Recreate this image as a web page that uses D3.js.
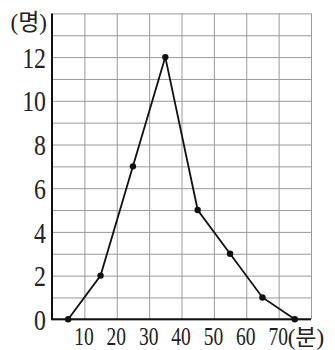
<!DOCTYPE html>
<html>
<head>
<meta charset="utf-8">
<script src="https://cdn.jsdelivr.net/npm/d3@7"></script>
<style>
  body { margin: 0; background: #fff; }
</style>
</head>
<body>
<div id="chart"></div>
<script>
// class midpoints (minutes) and frequencies (people)
const minutes = [5, 15, 25, 35, 45, 55, 65, 75];
const counts = [0, 2, 7, 12, 5, 3, 1, 0];
const xTicks = [10, 20, 30, 40, 50, 60, 70];
const yTicks = [0, 2, 4, 6, 8, 10, 12];

const FONT = "'Liberation Serif', 'DejaVu Serif', 'Noto Sans CJK KR', serif";

const W = 335, H = 350;
const margin = { top: 13.4, right: 24, bottom: 30.7, left: 52 };
const width = W - margin.left - margin.right;
const height = H - margin.top - margin.bottom;

const svg = d3.select("#chart").append("svg")
  .attr("width", W)
  .attr("height", H);

const g = svg.append("g")
  .attr("transform", `translate(${margin.left},${margin.top})`);

const x = d3.scaleLinear().domain([0, 80]).range([0, width]);
const y = d3.scaleLinear().domain([0, 14]).range([height, 0]);

// Grid
g.append("g")
  .attr("transform", `translate(0,${height})`)
  .call(d3.axisBottom(x).tickValues(d3.range(0, 81, 10)).tickSize(-height).tickFormat(""))
  .call(a => a.select(".domain").remove())
  .call(a => a.selectAll("line").attr("stroke", "#9a9a9a").attr("stroke-width", 1));
g.append("g")
  .call(d3.axisLeft(y).tickValues(d3.range(0, 15, 1)).tickSize(-width).tickFormat(""))
  .call(a => a.select(".domain").remove())
  .call(a => a.selectAll("line").attr("stroke", "#9a9a9a").attr("stroke-width", 1));

// Axes
const yAxis = g.append("g")
  .call(d3.axisLeft(y).tickValues(yTicks).tickSize(0).tickPadding(0));
yAxis.attr("font-family", null).select(".domain").remove();
yAxis.selectAll("text")
  .attr("x", 0).attr("dy", "0.35em")
  .style("font-family", FONT)
  .style("font-size", "29px")
  .attr("fill", "#222")
  .attr("transform", "translate(-6,0) scale(0.82,1)");

const xAxis = g.append("g")
  .attr("transform", `translate(0,${height})`)
  .call(d3.axisBottom(x).tickValues(xTicks).tickSize(0).tickPadding(0));
xAxis.attr("font-family", null).select(".domain").remove();
xAxis.selectAll("text")
  .attr("y", 0).attr("dy", 0)
  .style("font-family", FONT)
  .style("font-size", "25px")
  .attr("fill", "#222")
  .attr("transform", "translate(-1,26) scale(0.78,1)");

g.append("line")
  .attr("x1", 0).attr("x2", 0).attr("y1", 0).attr("y2", height)
  .attr("stroke", "#111").attr("stroke-width", 2);
g.append("line")
  .attr("x1", -1).attr("x2", width).attr("y1", height).attr("y2", height)
  .attr("stroke", "#111").attr("stroke-width", 2);

// Unit labels
g.append("text")
  .attr("x", -5).attr("y", 17)
  .attr("text-anchor", "end")
  .style("font-family", FONT)
  .style("font-size", "23px")
  .attr("fill", "#222")
  .text("(명)");
g.append("text")
  .attr("x", x(70) + 9).attr("y", height + 26)
  .style("font-family", FONT)
  .style("font-size", "23px")
  .attr("fill", "#222")
  .text("(분)");

// Frequency polygon
const data = minutes.map((m, i) => ({ m, c: counts[i] }));
g.append("path")
  .datum(data)
  .attr("fill", "none")
  .attr("stroke", "#111")
  .attr("stroke-width", 1.8)
  .attr("d", d3.line().x(d => x(d.m)).y(d => y(d.c)));
g.selectAll(".dot").data(data).join("circle")
  .attr("class", "dot")
  .attr("cx", d => x(d.m)).attr("cy", d => y(d.c))
  .attr("r", 3.2)
  .attr("fill", "#111");
</script>
</body>
</html>
